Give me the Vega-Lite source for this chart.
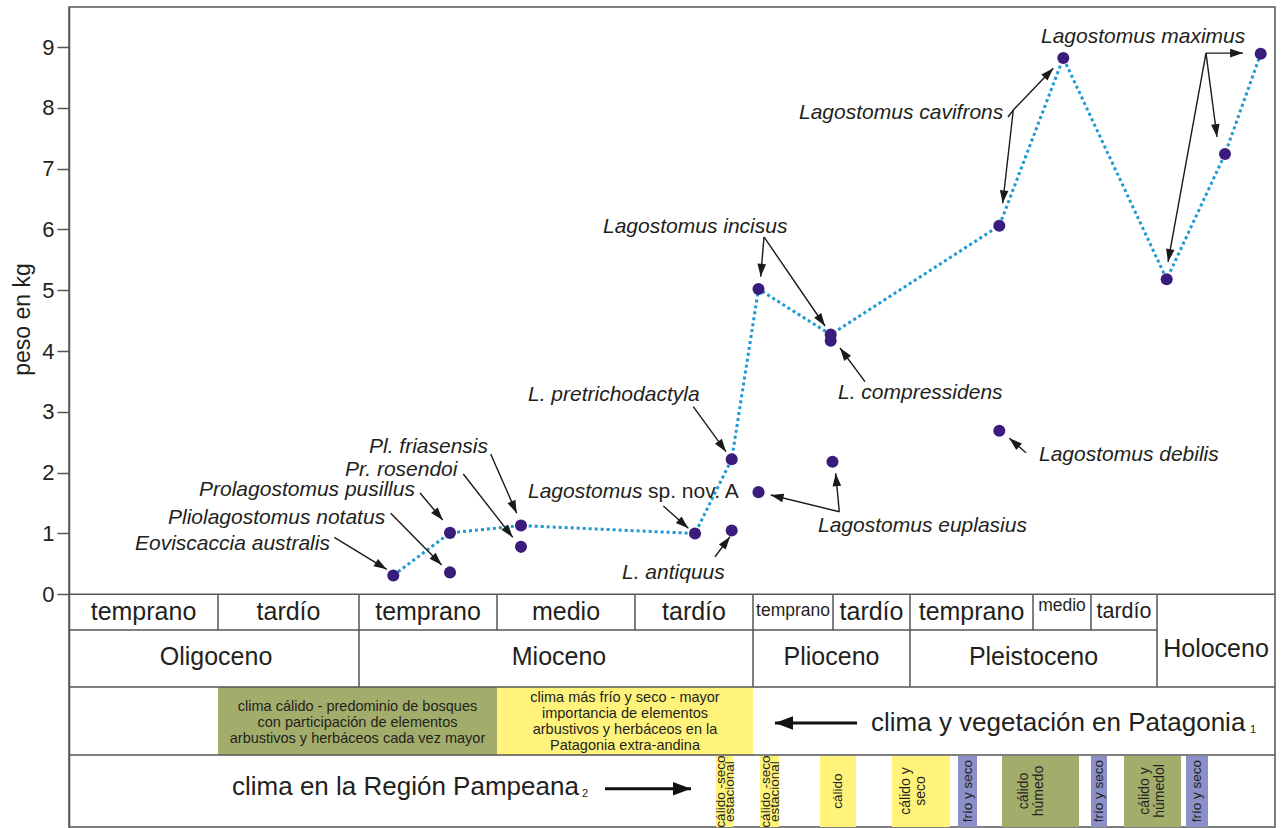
{
  "$schema": "https://vega.github.io/schema/vega-lite/v6.json",
  "width": 1206,
  "height": 820,
  "autosize": {"type": "none"},
  "padding": {"left": 69, "top": 7, "right": 7, "bottom": 1},
  "background": "white",
  "config": {
    "view": {"stroke": "#555555", "strokeWidth": 1.5},
    "font": "Liberation Sans",
    "text": {"font": "Liberation Sans", "color": "#231f20"}
  },
  "datasets": {
    "pts": [
      {"sp": "Eoviscaccia australis", "x": 393.3, "y": 0.31, "ord": 1},
      {"sp": "Pliolagostomus notatus", "x": 450, "y": 0.36, "ord": null},
      {"sp": "Prolagostomus pusillus", "x": 450, "y": 1.01, "ord": 2},
      {"sp": "Pr. rosendoi", "x": 521, "y": 0.78, "ord": null},
      {"sp": "Pl. friasensis", "x": 521, "y": 1.13, "ord": 3},
      {"sp": "Lagostomus sp. nov. A", "x": 695, "y": 1.0, "ord": 4},
      {"sp": "L. antiquus", "x": 731.7, "y": 1.05, "ord": null},
      {"sp": "L. pretrichodactyla", "x": 731.7, "y": 2.22, "ord": 5},
      {"sp": "Lagostomus euplasius", "x": 758.5, "y": 1.68, "ord": null},
      {"sp": "Lagostomus euplasius", "x": 832.5, "y": 2.18, "ord": null},
      {"sp": "Lagostomus incisus", "x": 758.5, "y": 5.02, "ord": 6},
      {"sp": "Lagostomus incisus", "x": 830.7, "y": 4.27, "ord": 7},
      {"sp": "L. compressidens", "x": 830.7, "y": 4.17, "ord": null},
      {"sp": "Lagostomus debilis", "x": 999.3, "y": 2.69, "ord": null},
      {"sp": "Lagostomus cavifrons", "x": 999.3, "y": 6.06, "ord": 8},
      {"sp": "Lagostomus cavifrons", "x": 1063.3, "y": 8.82, "ord": 9},
      {"sp": "Lagostomus maximus", "x": 1166.7, "y": 5.18, "ord": 10},
      {"sp": "Lagostomus maximus", "x": 1225, "y": 7.24, "ord": 11},
      {"sp": "Lagostomus maximus", "x": 1260.7, "y": 8.89, "ord": 12}
    ],
    "labels": [
      {"t": "Eoviscaccia australis", "x": 135, "y": 0.827},
      {"t": "Pliolagostomus notatus", "x": 168, "y": 1.255},
      {"t": "Prolagostomus pusillus", "x": 199, "y": 1.715},
      {"t": "Pr. rosendoi", "x": 345, "y": 2.044},
      {"t": "Pl. friasensis", "x": 369, "y": 2.422},
      {"t": "L. pretrichodactyla", "x": 528, "y": 3.277},
      {"t": "Lagostomus", "x": 528, "y": 1.682},
      {"t": "L. antiquus", "x": 622, "y": 0.35},
      {"t": "Lagostomus euplasius", "x": 818, "y": 1.123},
      {"t": "Lagostomus incisus", "x": 603, "y": 6.045},
      {"t": "L. compressidens", "x": 838, "y": 3.315},
      {"t": "Lagostomus debilis", "x": 1039, "y": 2.291},
      {"t": "Lagostomus cavifrons", "x": 799, "y": 7.915},
      {"t": "Lagostomus maximus", "x": 1041, "y": 9.165}
    ],
    "plainlabels": [
      {"t": "sp. nov. A", "x": 648, "y": 1.682}
    ],
    "arrows": [
      {"x1": 334.3, "y1": 0.937, "x2": 386.7, "y2": 0.411, "head": true},
      {"x1": 390.7, "y1": 1.332, "x2": 441.7, "y2": 0.482, "head": true},
      {"x1": 420, "y1": 1.666, "x2": 442.7, "y2": 1.222, "head": true},
      {"x1": 463.3, "y1": 1.978, "x2": 512.7, "y2": 0.937, "head": true},
      {"x1": 490.7, "y1": 2.307, "x2": 516.7, "y2": 1.332, "head": true},
      {"x1": 693.3, "y1": 3.085, "x2": 726, "y2": 2.345, "head": true},
      {"x1": 663.3, "y1": 1.452, "x2": 688.3, "y2": 1.085, "head": true},
      {"x1": 715, "y1": 0.618, "x2": 730, "y2": 0.947, "head": true},
      {"x1": 839.3, "y1": 1.358, "x2": 770.7, "y2": 1.633, "head": true},
      {"x1": 839.3, "y1": 1.358, "x2": 835.7, "y2": 1.99, "head": true},
      {"x1": 764, "y1": 5.876, "x2": 760.7, "y2": 5.223, "head": true},
      {"x1": 764, "y1": 5.876, "x2": 825, "y2": 4.412, "head": true},
      {"x1": 865, "y1": 3.496, "x2": 840, "y2": 4.05, "head": true},
      {"x1": 1026, "y1": 2.329, "x2": 1009.3, "y2": 2.565, "head": true},
      {"x1": 1008, "y1": 7.849, "x2": 1013.3, "y2": 7.964, "head": false},
      {"x1": 1013.3, "y1": 7.964, "x2": 1053.3, "y2": 8.65, "head": true},
      {"x1": 1013.3, "y1": 7.964, "x2": 1002.7, "y2": 6.43, "head": true},
      {"x1": 1206, "y1": 8.9, "x2": 1243, "y2": 8.9, "head": true},
      {"x1": 1206, "y1": 8.9, "x2": 1217, "y2": 7.52, "head": true},
      {"x1": 1206, "y1": 8.9, "x2": 1168, "y2": 5.465, "head": true}
    ],
    "bigarrows": [
      {"x1": 857, "y1": -2.115, "x2": 775, "y2": -2.115},
      {"x1": 605, "y1": -3.2, "x2": 691, "y2": -3.2}
    ],
    "cells": [
      {"x1": 218, "x2": 497, "y1": -1.524, "y2": -2.643, "c": "cálido"},
      {"x1": 497, "x2": 753, "y1": -1.524, "y2": -2.643, "c": "seco"},
      {"x1": 716, "x2": 733, "y1": -2.66, "y2": -3.827, "c": "seco"},
      {"x1": 760, "x2": 779, "y1": -2.66, "y2": -3.827, "c": "seco"},
      {"x1": 820, "x2": 856, "y1": -2.66, "y2": -3.827, "c": "seco"},
      {"x1": 892, "x2": 950, "y1": -2.66, "y2": -3.827, "c": "seco"},
      {"x1": 958, "x2": 977, "y1": -2.66, "y2": -3.827, "c": "frío"},
      {"x1": 1002, "x2": 1079, "y1": -2.66, "y2": -3.827, "c": "cálido"},
      {"x1": 1091, "x2": 1107, "y1": -2.66, "y2": -3.827, "c": "frío"},
      {"x1": 1124, "x2": 1181, "y1": -2.66, "y2": -3.827, "c": "cálido"},
      {"x1": 1186, "x2": 1208, "y1": -2.66, "y2": -3.827, "c": "frío"}
    ],
    "grid": [
      {"x1": 69, "y1": 0, "x2": 1275, "y2": 0},
      {"x1": 69, "y1": -0.587, "x2": 1157, "y2": -0.587},
      {"x1": 69, "y1": -1.524, "x2": 1275, "y2": -1.524},
      {"x1": 69, "y1": -2.643, "x2": 1275, "y2": -2.643},
      {"x1": 218, "y1": 0, "x2": 218, "y2": -0.587},
      {"x1": 359, "y1": 0, "x2": 359, "y2": -1.524},
      {"x1": 497, "y1": 0, "x2": 497, "y2": -0.587},
      {"x1": 635, "y1": 0, "x2": 635, "y2": -0.587},
      {"x1": 753, "y1": 0, "x2": 753, "y2": -1.524},
      {"x1": 833, "y1": 0, "x2": 833, "y2": -0.587},
      {"x1": 910, "y1": 0, "x2": 910, "y2": -1.524},
      {"x1": 1033, "y1": 0, "x2": 1033, "y2": -0.587},
      {"x1": 1091, "y1": 0, "x2": 1091, "y2": -0.587},
      {"x1": 1157, "y1": 0, "x2": 1157, "y2": -1.524}
    ],
    "ttext": [
      {"t": "temprano", "x": 143.5, "y": -0.291, "s": "L"},
      {"t": "tardío", "x": 288.5, "y": -0.291, "s": "L"},
      {"t": "temprano", "x": 428, "y": -0.291, "s": "L"},
      {"t": "medio", "x": 566, "y": -0.291, "s": "L"},
      {"t": "tardío", "x": 694, "y": -0.291, "s": "L"},
      {"t": "temprano", "x": 793, "y": -0.28, "s": "S"},
      {"t": "tardío", "x": 871.5, "y": -0.291, "s": "L"},
      {"t": "temprano", "x": 971.5, "y": -0.291, "s": "L"},
      {"t": "medio", "x": 1062, "y": -0.192, "s": "S"},
      {"t": "tardío", "x": 1124, "y": -0.291, "s": "M"},
      {"t": "Oligoceno", "x": 216, "y": -1.031, "s": "L"},
      {"t": "Mioceno", "x": 559, "y": -1.031, "s": "L"},
      {"t": "Plioceno", "x": 831.5, "y": -1.031, "s": "L"},
      {"t": "Pleistoceno", "x": 1033.5, "y": -1.031, "s": "L"},
      {"t": "Holoceno", "x": 1216, "y": -0.893, "s": "L"}
    ],
    "celltext": [
      {"t": "clima cálido - predominio de bosques\ncon participación de elementos\narbustivos y herbáceos cada vez mayor", "x": 357.5, "y": -1.85},
      {"t": "clima más frío y seco - mayor\nimportancia de elementos\narbustivos y herbáceos en la\nPatagonia extra-andina", "x": 625, "y": -1.71}
    ],
    "captions": [
      {"t": "clima y vegetación en Patagonia", "x": 871, "y": -2.115},
      {"t": "clima en la Región Pampeana", "x": 232, "y": -3.169}
    ],
    "subs": [
      {"t": "1", "x": 1250, "y": -2.23},
      {"t": "2", "x": 582, "y": -3.28}
    ],
    "bartext1": [
      {"t": "cálido -seco\nestacional", "x": 720.5, "y": -3.245},
      {"t": "cálido -seco\nestacional", "x": 765.5, "y": -3.245},
      {"t": "cálido", "x": 838, "y": -3.235},
      {"t": "frío y seco", "x": 967.5, "y": -3.235},
      {"t": "frío y seco", "x": 1099, "y": -3.235},
      {"t": "frío y seco", "x": 1197, "y": -3.235}
    ],
    "bartext2": [
      {"t": "cálido y\nseco", "x": 906, "y": -3.235},
      {"t": "cálido\nhúmedo", "x": 1024, "y": -3.235},
      {"t": "cálido y\nhúmedol", "x": 1145, "y": -3.235}
    ]
  },
  "layer": [
    {
      "data": {"name": "cells"},
      "mark": {"type": "rect"},
      "encoding": {
        "x": {"field": "x1", "type": "quantitative", "scale": {"domain": [69, 1275]}, "axis": null},
        "x2": {"field": "x2"},
        "y": {"field": "y1", "type": "quantitative", "scale": {"domain": [-3.827, 9.658]},
              "axis": {"values": [0, 1, 2, 3, 4, 5, 6, 7, 8, 9], "format": "d", "grid": false, "tickSize": 12, "tickColor": "#555555", "tickWidth": 1.5,
                       "domainColor": "#555555", "domainWidth": 1.5, "labelFontSize": 22, "labelColor": "#231f20", "labelPadding": 3,
                       "labelFont": "Liberation Sans",
                       "title": "peso en kg", "titleFontSize": 23, "titleFontWeight": "normal", "titleColor": "#231f20", "titleFont": "Liberation Sans",
                       "titleAngle": 270, "titleX": -47, "titleY": 312, "titleBaseline": "middle", "titleAlign": "center"}},
        "y2": {"field": "y2"},
        "color": {"field": "c", "type": "nominal", "legend": null,
                  "scale": {"domain": ["cálido", "seco", "frío"], "range": ["#a3ad6b", "#fff37c", "#8c90c8"]}}
      }
    },
    {
      "data": {"name": "grid"},
      "mark": {"type": "rule", "color": "#555555", "strokeWidth": 1.5},
      "encoding": {
        "x": {"field": "x1", "type": "quantitative", "scale": {"domain": [69, 1275]}, "axis": null},
        "x2": {"field": "x2"},
        "y": {"field": "y1", "type": "quantitative", "scale": {"domain": [-3.827, 9.658]}},
        "y2": {"field": "y2"}
      }
    },
    {
      "data": {"name": "ttext"},
      "transform": [{"filter": "datum.s == 'L'"}],
      "mark": {"type": "text", "align": "center", "baseline": "middle", "fontSize": 25, "color": "#231f20"},
      "encoding": {
        "x": {"field": "x", "type": "quantitative", "scale": {"domain": [69, 1275]}, "axis": null},
        "y": {"field": "y", "type": "quantitative", "scale": {"domain": [-3.827, 9.658]}},
        "text": {"field": "t"}
      }
    },
    {
      "data": {"name": "ttext"},
      "transform": [{"filter": "datum.s == 'M'"}],
      "mark": {"type": "text", "align": "center", "baseline": "middle", "fontSize": 21.5, "color": "#231f20"},
      "encoding": {
        "x": {"field": "x", "type": "quantitative", "scale": {"domain": [69, 1275]}, "axis": null},
        "y": {"field": "y", "type": "quantitative", "scale": {"domain": [-3.827, 9.658]}},
        "text": {"field": "t"}
      }
    },
    {
      "data": {"name": "ttext"},
      "transform": [{"filter": "datum.s == 'S'"}],
      "mark": {"type": "text", "align": "center", "baseline": "middle", "fontSize": 17.5, "color": "#231f20"},
      "encoding": {
        "x": {"field": "x", "type": "quantitative", "scale": {"domain": [69, 1275]}, "axis": null},
        "y": {"field": "y", "type": "quantitative", "scale": {"domain": [-3.827, 9.658]}},
        "text": {"field": "t"}
      }
    },
    {
      "data": {"name": "celltext"},
      "mark": {"type": "text", "align": "center", "baseline": "middle", "fontSize": 14.5, "lineHeight": 16, "lineBreak": "\n", "color": "#231f20"},
      "encoding": {
        "x": {"field": "x", "type": "quantitative", "scale": {"domain": [69, 1275]}, "axis": null},
        "y": {"field": "y", "type": "quantitative", "scale": {"domain": [-3.827, 9.658]}},
        "text": {"field": "t"}
      }
    },
    {
      "data": {"name": "bartext1"},
      "mark": {"type": "text", "align": "center", "baseline": "middle", "fontSize": 13.5, "lineHeight": 9.5, "lineBreak": "\n", "angle": 270, "color": "#231f20"},
      "encoding": {
        "x": {"field": "x", "type": "quantitative", "scale": {"domain": [69, 1275]}, "axis": null},
        "y": {"field": "y", "type": "quantitative", "scale": {"domain": [-3.827, 9.658]}},
        "text": {"field": "t"}
      }
    },
    {
      "data": {"name": "bartext2"},
      "mark": {"type": "text", "align": "center", "baseline": "middle", "fontSize": 14, "lineHeight": 15, "lineBreak": "\n", "angle": 270, "color": "#231f20"},
      "encoding": {
        "x": {"field": "x", "type": "quantitative", "scale": {"domain": [69, 1275]}, "axis": null},
        "y": {"field": "y", "type": "quantitative", "scale": {"domain": [-3.827, 9.658]}},
        "text": {"field": "t"}
      }
    },
    {
      "data": {"name": "captions"},
      "mark": {"type": "text", "align": "left", "baseline": "middle", "fontSize": 26, "color": "#231f20"},
      "encoding": {
        "x": {"field": "x", "type": "quantitative", "scale": {"domain": [69, 1275]}, "axis": null},
        "y": {"field": "y", "type": "quantitative", "scale": {"domain": [-3.827, 9.658]}},
        "text": {"field": "t"}
      }
    },
    {
      "data": {"name": "subs"},
      "mark": {"type": "text", "align": "left", "baseline": "middle", "fontSize": 11, "color": "#231f20"},
      "encoding": {
        "x": {"field": "x", "type": "quantitative", "scale": {"domain": [69, 1275]}, "axis": null},
        "y": {"field": "y", "type": "quantitative", "scale": {"domain": [-3.827, 9.658]}},
        "text": {"field": "t"}
      }
    },
    {
      "data": {"name": "bigarrows"},
      "mark": {"type": "rule", "color": "#111111", "strokeWidth": 3},
      "encoding": {
        "x": {"field": "x1", "type": "quantitative", "scale": {"domain": [69, 1275]}, "axis": null},
        "x2": {"field": "x2"},
        "y": {"field": "y1", "type": "quantitative", "scale": {"domain": [-3.827, 9.658]}},
        "y2": {"field": "y2"}
      }
    },
    {
      "data": {"name": "bigarrows"},
      "transform": [{"calculate": "atan2(datum.x2 - datum.x1, (datum.y2 - datum.y1) * 60.81) * 180 / PI", "as": "ang"}],
      "mark": {"type": "point", "shape": "M0,0L-0.75,2L0.75,2Z", "filled": true, "color": "#111111", "opacity": 1, "size": 324, "strokeWidth": 0},
      "encoding": {
        "x": {"field": "x2", "type": "quantitative", "scale": {"domain": [69, 1275]}, "axis": null},
        "y": {"field": "y2", "type": "quantitative", "scale": {"domain": [-3.827, 9.658]}},
        "angle": {"field": "ang", "type": "quantitative", "scale": null}
      }
    },
    {
      "data": {"name": "pts"},
      "transform": [{"filter": "isValid(datum.ord)"}],
      "mark": {"type": "line", "color": "#1e9ad3", "strokeWidth": 3, "strokeDash": [3, 3]},
      "encoding": {
        "x": {"field": "x", "type": "quantitative", "scale": {"domain": [69, 1275]}, "axis": null},
        "y": {"field": "y", "type": "quantitative", "scale": {"domain": [-3.827, 9.658]}},
        "order": {"field": "ord", "type": "quantitative"}
      }
    },
    {
      "data": {"name": "arrows"},
      "mark": {"type": "rule", "color": "#1a1a1a", "strokeWidth": 1.4},
      "encoding": {
        "x": {"field": "x1", "type": "quantitative", "scale": {"domain": [69, 1275]}, "axis": null},
        "x2": {"field": "x2"},
        "y": {"field": "y1", "type": "quantitative", "scale": {"domain": [-3.827, 9.658]}},
        "y2": {"field": "y2"}
      }
    },
    {
      "data": {"name": "arrows"},
      "transform": [
        {"filter": "datum.head"},
        {"calculate": "atan2(datum.x2 - datum.x1, (datum.y2 - datum.y1) * 60.81) * 180 / PI", "as": "ang"}
      ],
      "mark": {"type": "point", "shape": "M0,0L-0.7,2.1L0.7,2.1Z", "filled": true, "color": "#1a1a1a", "opacity": 1, "size": 150, "strokeWidth": 0},
      "encoding": {
        "x": {"field": "x2", "type": "quantitative", "scale": {"domain": [69, 1275]}, "axis": null},
        "y": {"field": "y2", "type": "quantitative", "scale": {"domain": [-3.827, 9.658]}},
        "angle": {"field": "ang", "type": "quantitative", "scale": null}
      }
    },
    {
      "data": {"name": "pts"},
      "mark": {"type": "point", "shape": "circle", "filled": true, "color": "#3a1c7c", "opacity": 1, "size": 145, "strokeWidth": 0},
      "encoding": {
        "x": {"field": "x", "type": "quantitative", "scale": {"domain": [69, 1275]}, "axis": null},
        "y": {"field": "y", "type": "quantitative", "scale": {"domain": [-3.827, 9.658]}}
      }
    },
    {
      "data": {"name": "labels"},
      "mark": {"type": "text", "align": "left", "baseline": "middle", "fontSize": 21, "fontStyle": "italic", "color": "#231f20"},
      "encoding": {
        "x": {"field": "x", "type": "quantitative", "scale": {"domain": [69, 1275]}, "axis": null},
        "y": {"field": "y", "type": "quantitative", "scale": {"domain": [-3.827, 9.658]}},
        "text": {"field": "t"}
      }
    },
    {
      "data": {"name": "plainlabels"},
      "mark": {"type": "text", "align": "left", "baseline": "middle", "fontSize": 21, "color": "#231f20"},
      "encoding": {
        "x": {"field": "x", "type": "quantitative", "scale": {"domain": [69, 1275]}, "axis": null},
        "y": {"field": "y", "type": "quantitative", "scale": {"domain": [-3.827, 9.658]}},
        "text": {"field": "t"}
      }
    }
  ]
}
